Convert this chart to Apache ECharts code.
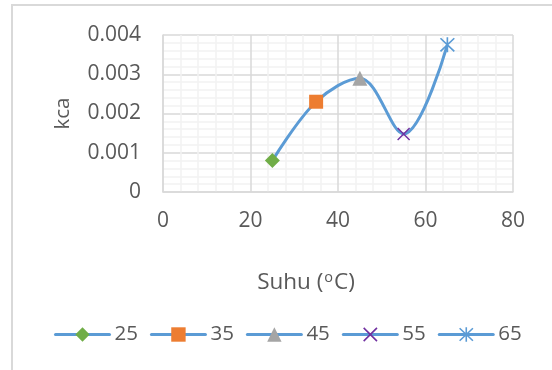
<!DOCTYPE html>
<html>
<head>
<meta charset="utf-8">
<script src="https://cdn.jsdelivr.net/npm/echarts@6/dist/echarts.min.js"></script>
<style>
html,body{margin:0;padding:0;background:#fff;}
#chart{width:552px;height:370px;}
</style>
</head>
<body>
<div id="chart"></div>
<script>
// Data
const temps = [25, 35, 45, 55, 65];
const kca = [0.0008, 0.0023, 0.0029, 0.00148, 0.00375];
const seriesNames = ['25', '35', '45', '55', '65'];
const markerColors = ['#70AD47', '#ED7D31', '#A5A5A5', '#7030A0', '#5B9BD5'];

const xPath = 'path://M1.42,0.58L11.42,10.58L10.58,11.42L0.58,1.42ZM11.42,1.42L1.42,11.42L0.58,10.58L10.58,0.58Z';
const starPath = 'path://M1.42,0.58L11.42,10.58L10.58,11.42L0.58,1.42ZM11.42,1.42L1.42,11.42L0.58,10.58L10.58,0.58ZM6.6,0.3L6.6,11.7L5.4,11.7L5.4,0.3Z';
const symbols = ['diamond', 'rect', 'triangle', xPath, starPath];
const symbolSizes = [15, 14, 15, 13, 15];

const FONT = 'Open Sans';
const FS = 21;
const TXT = '#595959';
const LINE = '#5B9BD5';

const chart = echarts.init(document.getElementById('chart'), null, {renderer: 'canvas'});

const series = [{
  name: 'curve',
  type: 'line',
  data: temps.map((t, i) => [t, kca[i]]),
  smooth: 0.35,
  showSymbol: false,
  symbol: 'none',
  lineStyle: {color: LINE, width: 3},
  silent: true,
  z: 2
}];
seriesNames.forEach((n, i) => {
  series.push({
    name: n,
    type: 'line',
    data: [[temps[i], kca[i]]],
    symbol: symbols[i],
    symbolSize: symbolSizes[i],
    itemStyle: {color: markerColors[i]},
    lineStyle: {color: LINE, width: 3},
    z: 3
  });
});

chart.setOption({
  animation: false,
  backgroundColor: '#fff',
  textStyle: {fontFamily: FONT, color: TXT},
  graphic: [{
    type: 'rect',
    shape: {x: 12, y: 5, width: 600, height: 400},
    style: {fill: 'none', stroke: '#d9d9d9', lineWidth: 2},
    silent: true
  }],
  grid: {left: 163, right: 39, top: 35, bottom: 178, containLabel: false},
  legend: {
    data: seriesNames,
    left: 54,
    top: 324,
    padding: 0,
    itemWidth: 54,
    itemHeight: 18,
    itemGap: 12,
    lineStyle: {width: 3, color: LINE, cap: 'round'},
    textStyle: {fontFamily: FONT, fontSize: 20.5, color: TXT}
  },
  xAxis: {
    type: 'value',
    min: 0, max: 80, interval: 20,
    name: '{a|Suhu (}{s|o}{a|C)}',
    nameLocation: 'middle',
    nameGap: 78,
    nameTextStyle: {
      padding: [0, 64, 0, 0],
      rich: {
        a: {fontFamily: FONT, fontSize: 22.5, color: TXT},
        s: {fontFamily: FONT, fontSize: 14.5, color: TXT, padding: [0, 1, 11, 1]}
      }
    },
    axisLine: {show: true, lineStyle: {color: '#d9d9d9', width: 1.5}},
    axisTick: {show: false},
    axisLabel: {fontFamily: FONT, fontSize: FS, color: TXT, margin: 19},
    splitLine: {show: true, lineStyle: {color: '#d9d9d9', width: 1.5}},
    minorTick: {show: false, splitNumber: 5},
    minorSplitLine: {show: true, lineStyle: {color: '#f2f2f2', width: 1.5}}
  },
  yAxis: {
    type: 'value',
    min: 0, max: 0.004, interval: 0.001,
    name: 'kca',
    nameLocation: 'middle',
    nameGap: 89,
    nameRotate: 90,
    nameTextStyle: {fontFamily: FONT, fontSize: 20.5, color: TXT},
    axisLine: {show: true, lineStyle: {color: '#d9d9d9', width: 1.5}},
    axisTick: {show: false},
    axisLabel: {
      fontFamily: FONT, fontSize: FS, color: TXT, margin: 22,
      formatter: v => (v === 0 ? '0' : v.toFixed(3))
    },
    splitLine: {show: true, lineStyle: {color: '#d9d9d9', width: 1.5}},
    minorTick: {show: false, splitNumber: 5},
    minorSplitLine: {show: true, lineStyle: {color: '#f2f2f2', width: 1.5}}
  },
  series: series
});
</script>
</body>
</html>
